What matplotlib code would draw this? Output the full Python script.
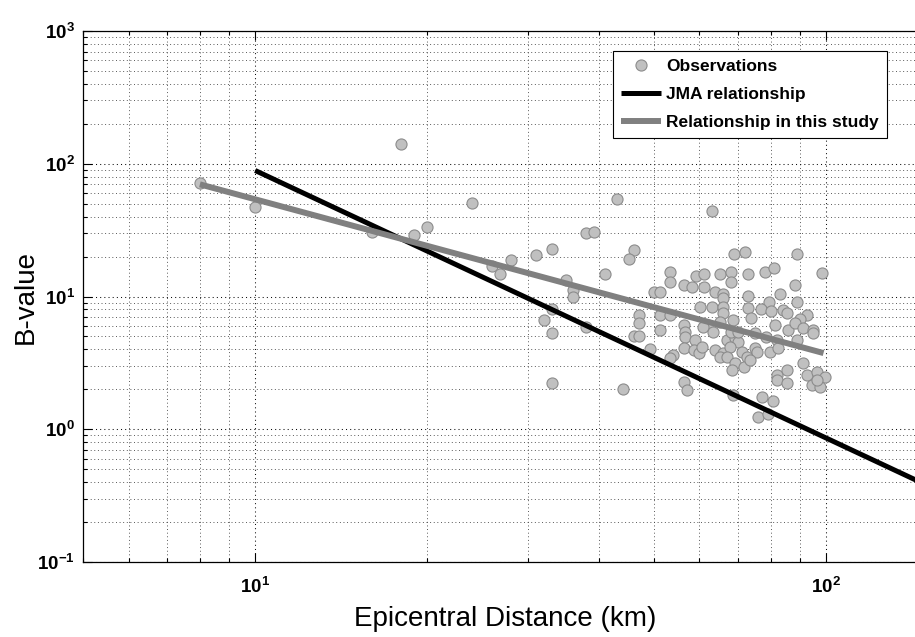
import numpy as np
import matplotlib
matplotlib.use('Agg')
import matplotlib.pyplot as plt
from matplotlib.ticker import LogLocator, FuncFormatter, NullFormatter

plt.rcParams['font.family'] = ['Liberation Sans', 'DejaVu Sans']
plt.rcParams['mathtext.fontset'] = 'custom'
plt.rcParams['mathtext.bf'] = 'Liberation Sans:bold'
plt.rcParams['mathtext.rm'] = 'Liberation Sans'

# observations (epicentral distance km, B-value)
obs_dist = [8.0, 10.0, 16.0, 18.0, 19.0, 20.0, 24.0, 26.0, 26.8, 28.1,
            31.0, 33.1, 35.1, 36.0, 36.0, 33.1, 32.0, 33.1, 38.0, 39.2,
            43.0, 46.0, 45.1, 41.0, 38.0, 33.1, 44.1, 47.1, 47.1, 51.1,
            51.1, 46.0, 47.1, 53.2, 49.9, 51.2, 53.2, 53.2, 49.2, 53.9,
            53.2, 63.1, 69.1, 72.2, 88.9,
            59.2, 61.2, 65.1, 68.1, 68.1, 73.1, 78.2, 81.2, 98.3,
            56.3, 58.2, 61.2, 63.9, 66.1, 66.1, 88.3,
            73.1, 83.1, 79.3, 88.9,
            60.2, 63.1, 66.1, 66.1, 73.1, 77.0, 80.0, 84.2, 85.6, 92.5, 90.1,
            56.3, 62.2, 65.3, 68.8, 73.8, 81.4, 85.9, 88.3, 91.3, 95.0, 95.0,
            56.7, 56.7, 59.0, 61.0, 63.5, 67.0, 69.3, 70.2, 75.1, 78.5, 82.0, 88.9,
            56.3, 58.6, 59.8, 60.6, 63.9, 66.1, 67.9, 71.2, 72.6, 75.1, 75.6, 79.8, 82.5,
            65.3, 67.0, 69.3, 71.7, 68.4, 73.6,
            91.3, 82.0, 85.3, 82.0, 85.3, 92.5, 96.3, 99.5, 94.4, 97.6, 96.3,
            56.3, 57.0, 68.8, 77.2, 80.9, 76.1, 79.0,
            68.1, 70.2]
obs_b = [72.0, 47.0, 30.4, 140.0, 29.0, 33.5, 50.5, 17.0, 14.9, 19.0,
         20.7, 22.7, 13.3, 11.2, 9.95, 8.1, 6.6, 5.3, 29.9, 30.7,
         54.1, 22.4, 19.1, 14.7, 5.9, 2.24, 2.02, 7.24, 6.3, 7.24,
         5.58, 5.0, 5.0, 7.24, 10.8, 10.8, 15.2, 12.9, 4.0, 3.62,
         3.45, 44.2, 20.9, 21.7, 20.9,
         14.2, 14.7, 14.7, 15.3, 12.8, 14.9, 15.3, 16.4, 15.1,
         12.2, 11.8, 11.8, 10.8, 10.5, 9.68, 12.2,
         10.1, 10.4, 9.12, 9.12,
         8.37, 8.37, 8.37, 7.46, 8.13, 8.04, 7.80, 7.90, 7.46, 7.24, 6.72,
         6.09, 6.09, 6.45, 6.64, 6.84, 6.09, 5.58, 6.27, 5.75, 5.58, 5.27,
         5.42, 4.97, 4.70, 5.91, 5.42, 4.70, 4.84, 4.56, 5.27, 4.97, 4.70, 4.70,
         4.06, 3.95, 3.73, 4.18, 3.95, 3.73, 4.18, 3.84, 3.52, 4.06, 3.84, 3.84, 4.06,
         3.52, 3.52, 3.13, 2.96, 2.79, 3.32,
         3.13, 2.56, 2.79, 2.35, 2.22, 2.56, 2.71, 2.49, 2.15, 2.09, 2.35,
         2.28, 1.97, 1.81, 1.76, 1.64, 1.24, 1.30,
         5.42, 5.42]

# fitted relationships (end points)
jma_dist = [10, 150]
jma_b = [89, 0.38]
study_dist = [8, 99]
study_b = [70, 3.75]

fig = plt.figure(figsize=(9.15, 6.37), dpi=100)
ax = fig.add_axes([0.0911, 0.1177, 0.9215, 0.8336])
ax.set_xscale('log')
ax.set_yscale('log')

ax.plot(obs_dist, obs_b, 'o', ls='none', ms=8, mfc='#c0c0c0', mec='#8c8c8c',
        mew=0.8, label='Observations', zorder=3)
ax.plot(jma_dist, jma_b, color='black', lw=3.6, solid_capstyle='butt',
        label='JMA relationship', zorder=4)
ax.plot(study_dist, study_b, color='#808080', lw=4.3, solid_capstyle='butt',
        label='Relationship in this study', zorder=4)

ax.set_xlim(5, 150)
ax.set_ylim(0.1, 1000)

for axis in (ax.xaxis, ax.yaxis):
    axis.set_major_locator(LogLocator(base=10, numticks=10))
    axis.set_minor_locator(LogLocator(base=10, subs=np.arange(2, 10), numticks=10))
    axis.set_major_formatter(FuncFormatter(lambda v, p: r'$\mathbf{10^{%d}}$' % round(np.log10(v))))
    axis.set_minor_formatter(NullFormatter())

ax.set_axisbelow(True)
ax.grid(True, which='major', ls=(0, (1, 3)), color='0.05', lw=0.75)
ax.grid(True, which='minor', ls=(0, (1, 3)), color='0.25', lw=0.65)

ax.tick_params(which='both', direction='in', top=True, right=True, width=0.8, color='black')
ax.tick_params(which='major', length=6.5, labelsize=13.5)
ax.tick_params(which='minor', length=3)
ax.tick_params(axis='x', which='major', pad=11)
ax.tick_params(axis='y', which='major', pad=6)
for s in ax.spines.values():
    s.set_linewidth(0.9)
    s.set_color('black')

ax.set_xlabel('Epicentral Distance (km)', fontsize=20, labelpad=6)
ax.set_ylabel('B-value', fontsize=20)
ax.yaxis.set_label_coords(-0.0527, 0.5)

leg = ax.legend(loc='upper right', bbox_to_anchor=(0.953, 0.963), borderaxespad=0,
                prop={'weight': 'bold', 'size': 12.5}, fancybox=False, framealpha=1,
                edgecolor='black', handlelength=2.33, handletextpad=0.27,
                labelspacing=0.74, borderpad=0.47)
leg.get_frame().set_linewidth(0.8)

fig.savefig('out.png', dpi=100)
